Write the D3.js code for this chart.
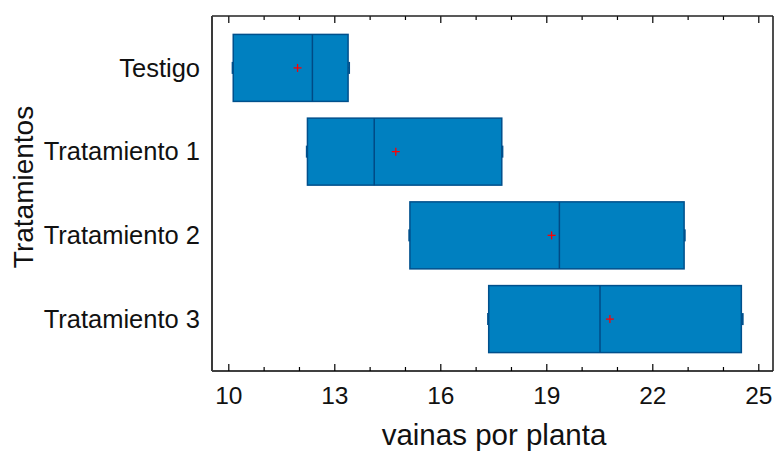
<!DOCTYPE html>
<html>
<head>
<meta charset="utf-8">
<script src="https://cdn.jsdelivr.net/npm/d3@7"></script>
<style>
  html, body { margin: 0; padding: 0; background: #fff; }
  svg { display: block; font-family: "Liberation Sans", Arial, sans-serif; }
</style>
</head>
<body>
<svg id="chart" width="776" height="452"></svg>
<script>
// Box-and-whisker summary of pods per plant by treatment
const categories = ["Testigo", "Tratamiento 1", "Tratamiento 2", "Tratamiento 3"];
const minVals    = [10.12, 12.22, 15.12, 17.35];
const q1Vals     = [10.14, 12.24, 15.14, 17.37];
const medianVals = [12.38, 14.13, 19.37, 20.52];
const q3Vals     = [13.39, 17.74, 22.90, 24.52];
const maxVals    = [13.42, 17.76, 22.92, 24.56];
const meanVals   = [11.96, 14.74, 19.15, 20.80];
const majorTicks = [10, 13, 16, 19, 22, 25];
const minorTicks = [11, 12, 14, 15, 17, 18, 20, 21, 23, 24];

const svg = d3.select("#chart");

const frame = { left: 212, right: 773, top: 16, bottom: 371 };

const x = d3.scaleLinear().domain([10, 25]).range([228.3, 758.3]);
const y = d3.scalePoint().domain(categories)
  .range([frame.top, frame.bottom]).padding(0.62);
const boxH = y.step() * 0.8;

const rows = categories.map((c, i) => ({
  c, min: minVals[i], q1: q1Vals[i], med: medianVals[i],
  q3: q3Vals[i], max: maxVals[i], mean: meanVals[i]
}));

// boxes
const g = svg.append("g");
rows.forEach(d => {
  const cy = y(d.c);
  // whiskers
  g.append("line").attr("x1", x(d.min)).attr("x2", x(d.q1))
    .attr("y1", cy).attr("y2", cy).attr("stroke", "#00508c").attr("stroke-width", 1.2);
  g.append("line").attr("x1", x(d.q3)).attr("x2", x(d.max))
    .attr("y1", cy).attr("y2", cy).attr("stroke", "#00508c").attr("stroke-width", 1.2);
  g.append("rect")
    .attr("x", x(d.q1)).attr("y", cy - boxH / 2)
    .attr("width", x(d.q3) - x(d.q1)).attr("height", boxH)
    .attr("fill", "#0080c0").attr("stroke", "#00508c").attr("stroke-width", 1.5);
  // whisker caps
  [d.min, d.max].forEach(v => {
    g.append("line").attr("x1", x(v)).attr("x2", x(v))
      .attr("y1", cy - 6).attr("y2", cy + 6)
      .attr("stroke", "#00508c").attr("stroke-width", 1.8);
  });
  // median
  g.append("line").attr("x1", x(d.med)).attr("x2", x(d.med))
    .attr("y1", cy - boxH / 2).attr("y2", cy + boxH / 2)
    .attr("stroke", "#004a85").attr("stroke-width", 1.5);
  // mean marker
  g.append("line").attr("x1", x(d.mean) - 4).attr("x2", x(d.mean) + 4)
    .attr("y1", cy).attr("y2", cy).attr("stroke", "#ff0000").attr("stroke-width", 1.3);
  g.append("line").attr("x1", x(d.mean)).attr("x2", x(d.mean))
    .attr("y1", cy - 4).attr("y2", cy + 4).attr("stroke", "#ff0000").attr("stroke-width", 1.3);
});

// bottom axis: major and minor ticks pointing inward
const bottomMajor = svg.append("g").attr("transform", `translate(0,${frame.bottom})`)
  .call(d3.axisBottom(x).tickValues(majorTicks).tickFormat(d3.format("d"))
    .tickSize(-7).tickPadding(16));
bottomMajor.select(".domain").remove();
bottomMajor.selectAll("line").attr("stroke", "#000").attr("stroke-width", 1.2);
bottomMajor.selectAll("text").attr("font-size", 24.5).attr("fill", "#111")
  .attr("font-family", "Liberation Sans, Arial, sans-serif");

const bottomMinor = svg.append("g").attr("transform", `translate(0,${frame.bottom})`)
  .call(d3.axisBottom(x).tickValues(minorTicks).tickFormat("").tickSize(-4));
bottomMinor.select(".domain").remove();
bottomMinor.selectAll("line").attr("stroke", "#000").attr("stroke-width", 1.2);

// top axis ticks
const topMajor = svg.append("g").attr("transform", `translate(0,${frame.top})`)
  .call(d3.axisTop(x).tickValues(majorTicks).tickFormat("").tickSize(-7));
topMajor.select(".domain").remove();
topMajor.selectAll("line").attr("stroke", "#000").attr("stroke-width", 1.2);

const topMinor = svg.append("g").attr("transform", `translate(0,${frame.top})`)
  .call(d3.axisTop(x).tickValues(minorTicks).tickFormat("").tickSize(-4));
topMinor.select(".domain").remove();
topMinor.selectAll("line").attr("stroke", "#000").attr("stroke-width", 1.2);

// category labels
const left = svg.append("g").attr("transform", `translate(${frame.left},0)`)
  .call(d3.axisLeft(y).tickSize(0).tickPadding(12));
left.select(".domain").remove();
left.selectAll("text").attr("font-size", 25.5).attr("fill", "#111")
  .attr("font-family", "Liberation Sans, Arial, sans-serif");

// plot frame
svg.append("line").attr("x1", frame.left).attr("x2", frame.right)
  .attr("y1", frame.top).attr("y2", frame.top).attr("stroke", "#222").attr("stroke-width", 1.3);
svg.append("line").attr("x1", frame.left).attr("x2", frame.right)
  .attr("y1", frame.bottom).attr("y2", frame.bottom).attr("stroke", "#000").attr("stroke-width", 1.6);
svg.append("line").attr("x1", frame.left).attr("x2", frame.left)
  .attr("y1", frame.top).attr("y2", frame.bottom).attr("stroke", "#3a3a3a").attr("stroke-width", 2);
svg.append("line").attr("x1", frame.right).attr("x2", frame.right)
  .attr("y1", frame.top).attr("y2", frame.bottom).attr("stroke", "#222").attr("stroke-width", 1.6);

// axis titles
svg.append("text").attr("x", (frame.left + frame.right) / 2 + 1.5).attr("y", 445)
  .attr("text-anchor", "middle").attr("font-size", 29.5).attr("fill", "#111")
  .text("vainas por planta");
svg.append("text").attr("transform", "translate(33,187) rotate(-90)")
  .attr("text-anchor", "middle").attr("font-size", 28).attr("fill", "#111")
  .text("Tratamientos");
</script>
</body>
</html>
